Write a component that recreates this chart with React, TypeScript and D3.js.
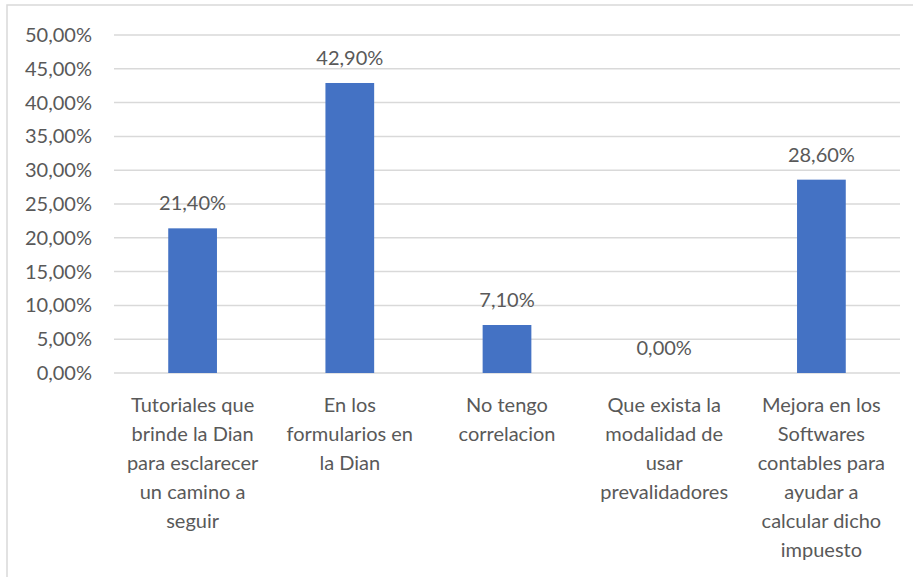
import React from "react";
import * as d3 from "d3";

const categories = [
  ["Tutoriales que", "brinde la Dian", "para esclarecer", "un camino a", "seguir"],
  ["En los", "formularios en", "la Dian"],
  ["No tengo", "correlacion"],
  ["Que exista la", "modalidad de", "usar", "prevalidadores"],
  ["Mejora en los", "Softwares", "contables para", "ayudar a", "calcular dicho", "impuesto"],
];
const values = [21.4, 42.9, 7.1, 0.0, 28.6];
const yTicks = [0, 5, 10, 15, 20, 25, 30, 35, 40, 45, 50];

const fmt = (v: number) => v.toFixed(2).replace(".", ",") + "%";

export default function App() {
  const W = 913, H = 577;
  const left = 114, right = 900, top = 35, bottom = 373;
  const x = d3.scaleBand<number>().domain(d3.range(values.length)).range([left, right]).paddingInner(0.69).paddingOuter(0.345);
  const y = d3.scaleLinear().domain([0, 50]).range([bottom, top]);
  const font = "Lato, 'Open Sans', sans-serif";
  const gray = "#595959";
  return (
    <svg width={W} height={H} style={{ position: "absolute", left: 0, top: 0 }}>
      <rect x={0} y={0} width={W} height={H} fill="#fff" />
      <rect x={7} y={5} width={W + 10} height={H + 10} fill="none" stroke="#d9d9d9" strokeWidth={1.5} />
      {yTicks.map((t) => (
        <g key={t}>
          <line x1={left} x2={right} y1={y(t)} y2={y(t)} stroke="#d9d9d9" strokeWidth={1.5} />
          <text x={92} y={y(t)} dy="0.35em" textAnchor="end" fontFamily={font} fontSize={20} fill={gray}>
            {fmt(t)}
          </text>
        </g>
      ))}
      {values.map((v, i) => {
        const bx = x(i)!;
        const bw = x.bandwidth();
        const cx = bx + bw / 2;
        return (
          <g key={i}>
            {v > 0 && <rect x={bx} y={y(v)} width={bw} height={y(0) - y(v)} fill="#4472C4" />}
            <text x={cx} y={y(v) - 25} textAnchor="middle" fontFamily={font} fontSize={20} fill={gray} dy="0.35em">
              {fmt(v)}
            </text>
            {categories[i].map((line, j) => (
              <text key={j} x={cx} y={405 + j * 29} dy="0.35em" textAnchor="middle" fontFamily={font} fontSize={20} fill={gray}>
                {line}
              </text>
            ))}
          </g>
        );
      })}
    </svg>
  );
}
